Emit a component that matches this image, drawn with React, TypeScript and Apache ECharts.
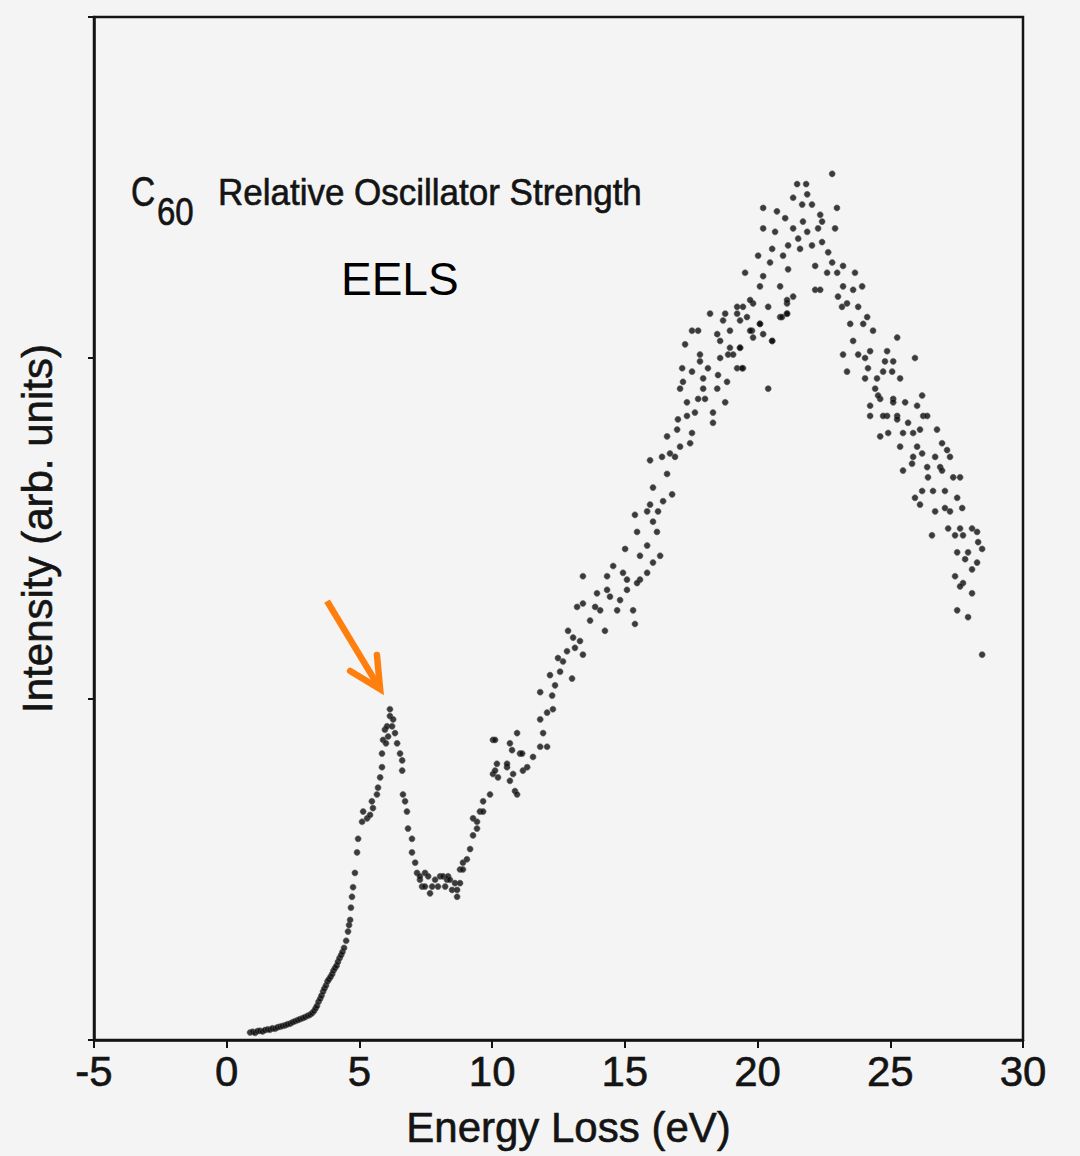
import React, { useEffect, useRef } from "react";
import * as echarts from "echarts";

// ---- Data (energy loss in eV, intensity in arb. units) ----
const xTickValues = [-5, 0, 5, 10, 15, 20, 25, 30];
const yTickValues = [0, 1, 2, 3];

const onset: [number, number][] = [
  [0.88, 0.022], [0.98, 0.024], [1.07, 0.021], [1.16, 0.026], [1.25, 0.027], [1.35, 0.025], [1.44, 0.029],
  [1.54, 0.031], [1.63, 0.03], [1.72, 0.034], [1.82, 0.033], [1.91, 0.037], [2.01, 0.039], [2.1, 0.041],
  [2.2, 0.043], [2.29, 0.046], [2.39, 0.048], [2.48, 0.052], [2.57, 0.055], [2.67, 0.058], [2.76, 0.061],
  [2.86, 0.064], [2.95, 0.067], [3.05, 0.071], [3.14, 0.074], [3.22, 0.079], [3.29, 0.085], [3.35, 0.093],
  [3.4, 0.1], [3.46, 0.112], [3.52, 0.121], [3.57, 0.13], [3.63, 0.142], [3.68, 0.151], [3.74, 0.16],
  [3.8, 0.172], [3.85, 0.178], [3.91, 0.185], [3.97, 0.193], [4.02, 0.203], [4.08, 0.211], [4.14, 0.218],
  [4.19, 0.229], [4.25, 0.24], [4.31, 0.249], [4.36, 0.258], [4.42, 0.27], [4.5, 0.291], [4.57, 0.318],
  [4.61, 0.337], [4.65, 0.352], [4.68, 0.388], [4.72, 0.42], [4.76, 0.448],
];

const piPlasmon: [number, number][] = [
  [4.83, 0.49], [4.91, 0.55], [4.95, 0.59], [5.1, 0.64], [5.29, 0.65], [5.14, 0.67], [5.51, 0.68],
  [5.47, 0.7], [5.4, 0.66], [5.66, 0.72], [5.7, 0.74], [5.78, 0.77], [5.85, 0.8], [5.85, 0.84],
  [5.89, 0.88], [5.96, 0.91], [6.0, 0.87], [6.04, 0.92], [6.08, 0.89], [6.15, 0.95], [6.15, 0.97],
  [6.23, 0.92], [6.27, 0.94], [6.34, 0.9], [6.42, 0.87], [6.53, 0.84], [6.61, 0.82], [6.61, 0.79],
  [6.64, 0.72], [6.72, 0.7], [6.79, 0.67], [6.83, 0.62], [6.98, 0.59], [6.98, 0.55], [7.1, 0.52],
  [7.17, 0.49],
];

const trough: [number, number][] = [
  [7.28, 0.47], [7.28, 0.48], [7.36, 0.45], [7.47, 0.45], [7.47, 0.49], [7.59, 0.48], [7.66, 0.43],
  [7.74, 0.45], [7.85, 0.47], [7.96, 0.45], [8.04, 0.48], [8.15, 0.48], [8.23, 0.45], [8.3, 0.47],
  [8.34, 0.48], [8.41, 0.47], [8.49, 0.44], [8.6, 0.46], [8.68, 0.42], [8.68, 0.44], [8.79, 0.46],
  [8.79, 0.5], [8.9, 0.5], [8.9, 0.52], [9.05, 0.53], [9.17, 0.56], [9.28, 0.6], [9.43, 0.62],
  [9.43, 0.64], [9.28, 0.65], [9.54, 0.67], [9.66, 0.67], [9.66, 0.7],
];

const rise: [number, number][] = [
  [9.92, 0.72], [10.03, 0.78], [10.22, 0.77], [10.11, 0.79], [10.18, 0.81], [10.56, 0.8], [10.56, 0.81],
  [10.67, 0.76], [10.79, 0.78], [10.86, 0.73], [10.94, 0.72], [10.75, 0.85], [10.03, 0.88], [10.11, 0.88],
  [10.67, 0.87], [10.94, 0.9], [11.05, 0.84], [11.13, 0.84], [11.16, 0.79], [11.32, 0.8], [11.54, 0.83],
  [11.81, 0.86], [12.07, 0.86], [11.92, 0.9], [11.81, 0.94], [12.07, 0.96], [12.29, 0.97], [11.81, 1.02],
  [12.26, 1.01], [12.37, 1.04], [12.18, 1.07], [12.56, 1.08], [13.01, 1.06], [12.67, 1.11], [12.48, 1.12],
  [12.82, 1.14], [13.12, 1.15], [13.05, 1.18], [12.86, 1.2], [13.31, 1.17], [13.42, 1.13], [13.2, 1.27],
  [13.42, 1.28], [13.69, 1.23], [13.88, 1.27], [14.07, 1.26], [14.25, 1.2], [13.95, 1.31], [14.33, 1.32],
  [14.44, 1.3], [14.71, 1.26], [14.82, 1.29], [15.08, 1.32], [15.31, 1.26], [15.38, 1.22], [15.57, 1.35],
  [15.84, 1.37], [14.56, 1.39], [14.93, 1.37], [13.42, 1.36], [14.33, 1.36], [16.06, 1.4],
];

const upperRise: [number, number][] = [
  [15.08, 1.35], [15.46, 1.34], [15.01, 1.44], [15.57, 1.42], [15.84, 1.45], [16.33, 1.42], [16.21, 1.49],
  [15.46, 1.49], [16.06, 1.52], [15.38, 1.54], [15.84, 1.55], [16.25, 1.55], [15.95, 1.57], [16.44, 1.58],
  [16.78, 1.6], [16.06, 1.62], [15.95, 1.7], [16.4, 1.71], [16.89, 1.71], [16.59, 1.66], [16.7, 1.72],
  [16.59, 1.77], [17.08, 1.74], [17.46, 1.75], [17.53, 1.78], [16.97, 1.79], [17.34, 1.83], [17.0, 1.82],
  [17.64, 1.84], [18.32, 1.81], [18.32, 1.84], [18.78, 1.87], [17.34, 1.87], [17.76, 1.88], [18.02, 1.88],
  [17.08, 1.91], [17.19, 1.93], [17.95, 1.91], [18.48, 1.91], [18.85, 1.93], [17.53, 1.96], [17.95, 1.94],
  [18.51, 1.95], [18.13, 1.97], [17.16, 1.97], [17.83, 1.99], [19.23, 1.97], [19.45, 1.97], [18.89, 2.01],
  [20.4, 1.91], [18.59, 2.0], [19.08, 2.01], [17.83, 2.01], [17.27, 2.04], [18.96, 2.03], [19.34, 2.03],
  [18.59, 2.05], [18.48, 2.07], [18.96, 2.08], [17.53, 2.08], [17.76, 2.08], [18.7, 2.11], [18.21, 2.13],
  [18.78, 2.13], [19.23, 2.13], [19.34, 2.11], [19.6, 2.12], [19.79, 2.08], [19.83, 2.06], [20.21, 2.07],
  [20.55, 2.05], [20.09, 2.1], [20.85, 2.12], [21.11, 2.13], [20.4, 2.15], [19.83, 2.16], [19.23, 2.15],
  [21.11, 2.16], [19.42, 1.97],
];

const peak: [number, number][] = [
  [22.81, 2.54], [21.49, 2.51], [21.83, 2.51], [21.87, 2.48], [21.34, 2.47], [21.68, 2.45], [22.05, 2.45],
  [20.21, 2.44], [22.99, 2.44], [20.73, 2.43], [21.04, 2.41], [22.36, 2.42], [22.43, 2.4], [21.71, 2.4],
  [21.34, 2.38], [20.21, 2.38], [20.66, 2.37], [21.87, 2.37], [22.28, 2.38], [22.92, 2.38], [21.53, 2.35],
  [22.05, 2.33], [22.43, 2.34], [21.15, 2.33], [20.55, 2.32], [22.66, 2.31], [21.6, 2.32], [22.81, 2.28],
  [20.96, 2.3], [20.02, 2.3], [20.47, 2.28], [21.15, 2.26], [22.17, 2.27], [22.62, 2.25], [23.22, 2.27],
  [23.0, 2.25], [23.67, 2.25], [19.53, 2.25], [20.21, 2.24], [20.85, 2.21], [20.09, 2.21], [19.72, 2.17],
  [19.45, 2.15], [21.11, 2.17], [21.34, 2.18], [22.17, 2.2], [22.36, 2.2], [23.22, 2.21], [23.6, 2.2],
  [23.94, 2.21], [23.03, 2.18], [23.37, 2.16], [23.79, 2.15], [24.13, 2.12], [23.18, 2.15], [23.49, 2.1],
  [23.98, 2.1], [24.35, 2.08], [20.09, 2.1], [19.72, 2.08], [21.11, 2.13], [20.92, 2.12], [20.55, 2.05],
  [23.6, 2.05], [25.26, 2.06], [23.22, 2.01], [23.79, 2.01], [24.24, 2.02], [24.88, 2.02], [24.05, 2.0],
  [24.8, 1.99], [25.11, 1.99], [25.93, 2.0], [24.16, 1.97], [23.37, 1.96], [24.73, 1.96], [25.07, 1.96],
  [24.5, 1.94], [25.37, 1.94], [24.05, 1.94], [24.43, 1.91], [19.34, 2.03],
];

const tail: [number, number][] = [
  [24.62, 1.88], [25.11, 1.88], [26.2, 1.89], [25.56, 1.87], [26.01, 1.86], [24.88, 1.83], [25.26, 1.83],
  [26.24, 1.83], [24.24, 1.86], [24.54, 1.89], [25.11, 1.87], [24.24, 1.83], [24.73, 1.83], [25.26, 1.82],
  [25.67, 1.81], [26.39, 1.83], [24.92, 1.78], [24.62, 1.77], [25.48, 1.78], [25.86, 1.78], [26.12, 1.79],
  [26.76, 1.79], [25.37, 1.74], [26.01, 1.74], [26.95, 1.75], [27.14, 1.73], [26.2, 1.72], [26.69, 1.71],
  [27.25, 1.71], [25.86, 1.71], [25.82, 1.69], [25.48, 1.67], [26.39, 1.68], [26.88, 1.68], [26.95, 1.67],
  [26.42, 1.65], [27.37, 1.65], [27.63, 1.65], [26.2, 1.61], [26.61, 1.61], [25.93, 1.59], [26.12, 1.57],
  [27.06, 1.61], [27.52, 1.59], [27.06, 1.56], [27.71, 1.56], [26.69, 1.55], [27.25, 1.55], [27.18, 1.5],
  [27.63, 1.5], [28.08, 1.5], [28.27, 1.49], [27.44, 1.48], [27.74, 1.48], [26.57, 1.48], [28.31, 1.46],
  [28.46, 1.44], [27.52, 1.43], [27.93, 1.43], [27.82, 1.41], [28.27, 1.4], [28.08, 1.38], [27.44, 1.36],
  [27.74, 1.34], [27.63, 1.33], [28.08, 1.31], [27.52, 1.26], [27.93, 1.24], [28.46, 1.13],
];

// Arrow annotation (data coordinates): tail, tip and two head wings
const arrowTail: [number, number] = [3.78, 1.287];
const arrowTip: [number, number] = [5.78, 1.029];
const arrowWingA: [number, number] = [4.65, 1.082];
const arrowWingB: [number, number] = [5.66, 1.129];

const xAxisTitle = "Energy Loss (eV)";
const yAxisTitle = "Intensity (arb. units)";
const compoundBase = "C";
const compoundSub = "60";
const panelTitle = "Relative Oscillator Strength";
const methodLabel = "EELS";

const FONT = '"Liberation Sans", Arial, Helvetica, sans-serif';
const INK = "#141414";
const ORANGE = "#FF7F0E";

export default function App() {
  const ref = useRef<HTMLDivElement>(null);

  useEffect(() => {
    document.body.style.margin = "0";
    const el = ref.current;
    if (!el) return;
    const chart = echarts.init(el, null, { renderer: "svg" });
    const points = [...onset, ...piPlasmon, ...trough, ...rise, ...upperRise, ...peak, ...tail];

    chart.setOption({
      animation: false,
      backgroundColor: "#f4f4f4",
      grid: {
        left: 94,
        top: 17,
        width: 929,
        height: 1023,
        show: true,
        borderColor: INK,
        borderWidth: 2.5,
        backgroundColor: "transparent",
      },
      xAxis: {
        type: "value",
        min: xTickValues[0],
        max: xTickValues[xTickValues.length - 1],
        interval: 5,
        name: xAxisTitle,
        nameLocation: "middle",
        nameGap: 66,
        nameTextStyle: {
          fontSize: 42, color: INK, fontFamily: FONT, padding: [0, 0, 0, 20],
          textBorderColor: INK, textBorderWidth: 0.6,
        },
        axisLine: { show: true, onZero: false, lineStyle: { color: INK, width: 2.5 } },
        axisTick: { show: true, inside: false, length: 8, lineStyle: { color: INK, width: 2 } },
        axisLabel: { fontSize: 42, color: INK, margin: 10, fontFamily: FONT, textBorderColor: INK, textBorderWidth: 0.6 },
        splitLine: { show: false },
      },
      yAxis: {
        type: "value",
        min: yTickValues[0],
        max: yTickValues[yTickValues.length - 1],
        interval: 1,
        name: yAxisTitle,
        nameLocation: "middle",
        nameGap: 36,
        nameTextStyle: { fontSize: 42, color: INK, fontFamily: FONT, textBorderColor: INK, textBorderWidth: 0.6 },
        axisLine: { show: true, onZero: false, lineStyle: { color: INK, width: 2.5 } },
        axisTick: { show: true, inside: false, length: 6, lineStyle: { color: INK, width: 2 } },
        axisLabel: { show: false },
        splitLine: { show: false },
      },
      series: [
        {
          type: "scatter",
          data: points,
          symbol: "circle",
          symbolSize: 6,
          itemStyle: { color: "#0d0d0d", borderColor: "rgba(90,90,90,0.75)", borderWidth: 1 },
        },
      ],
    });

    const px = (d: [number, number]) => chart.convertToPixel({ gridIndex: 0 }, d) as number[];
    const tailP = px(arrowTail);
    const tipP = px(arrowTip);
    const wingA = px(arrowWingA);
    const wingB = px(arrowWingB);

    chart.setOption({
      graphic: [
        {
          type: "text",
          x: 131,
          y: 192,
          scaleX: 0.88,
          scaleY: 1.1,
          style: {
            text: compoundBase, fontSize: 38, fontFamily: FONT, fill: INK, align: "left", verticalAlign: "middle",
            stroke: INK, lineWidth: 0.6,
          },
        },
        {
          type: "text",
          x: 157,
          y: 212,
          scaleY: 1.18,
          style: {
            text: compoundSub, fontSize: 33, fontFamily: FONT, fill: INK, align: "left", verticalAlign: "middle",
            stroke: INK, lineWidth: 0.6,
          },
        },
        {
          type: "text",
          x: 218,
          y: 192,
          scaleY: 1.08,
          style: {
            text: panelTitle, fontSize: 35, fontFamily: FONT, fill: INK, align: "left", verticalAlign: "middle",
            stroke: INK, lineWidth: 0.6,
          },
        },
        {
          type: "text",
          x: 341,
          y: 279,
          style: { text: methodLabel, fontSize: 46, fontFamily: FONT, fill: "#000", align: "left", verticalAlign: "middle" },
        },
        {
          type: "polyline",
          shape: { points: [tailP, tipP] },
          style: { stroke: ORANGE, lineWidth: 6.5, lineCap: "butt", fill: null },
        },
        {
          type: "polyline",
          shape: { points: [wingA, tipP, wingB] },
          style: { stroke: ORANGE, lineWidth: 6.5, lineCap: "round", lineJoin: "miter", fill: null },
        },
      ],
    });

    return () => {
      chart.dispose();
    };
  }, []);

  return <div ref={ref} style={{ width: 1080, height: 1156, background: "#f4f4f4" }} />;
}
